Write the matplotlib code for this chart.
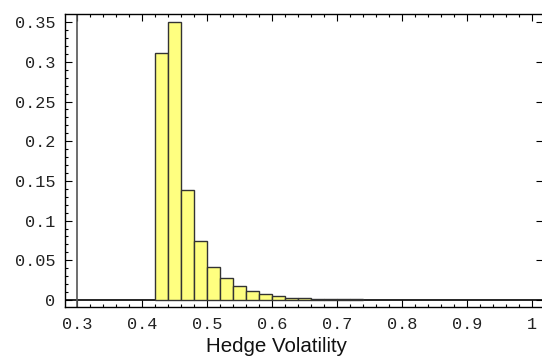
import matplotlib
matplotlib.use("Agg")
import matplotlib.pyplot as plt
from matplotlib.ticker import FixedLocator

# histogram of hedge volatility (relative frequency per bin)
bin_left = [0.42, 0.44, 0.46, 0.48, 0.50, 0.52, 0.54, 0.56,
            0.58, 0.60, 0.62, 0.64, 0.66, 0.68, 0.70, 0.72]
bin_width = 0.02
freq = [0.311, 0.350, 0.138, 0.074, 0.042, 0.028, 0.018, 0.011,
        0.0076, 0.0047, 0.0030, 0.0025, 0.0017, 0.0012, 0.0012, 0.0010]

xticks = [0.3, 0.4, 0.5, 0.6, 0.7, 0.8, 0.9, 1.0]
xticklabels = ["0.3", "0.4", "0.5", "0.6", "0.7", "0.8", "0.9", "1"]
yticks = [0, 0.05, 0.1, 0.15, 0.2, 0.25, 0.3, 0.35]
yticklabels = ["0", "0.05", "0.1", "0.15", "0.2", "0.25", "0.3", "0.35"]

W, H = 542, 356
fig = plt.figure(figsize=(W / 100, H / 100), dpi=100)
# frame runs off the right edge of the canvas
ax = fig.add_axes([65 / W, 1 - 307 / H, (543 - 65) / W, (307 - 14) / H])

ax.bar(bin_left, freq, width=bin_width, align="edge",
       color="#ffff80", edgecolor="#333333", linewidth=1.0, zorder=3)

# axes lines through the origin (0.3, 0)
ax.axhline(0, color="black", linewidth=1.2, zorder=2)
ax.axvline(0.3, color="#555555", linewidth=1.2, zorder=2)

ax.set_xlim(0.3 - 12 / 650, 0.3 + (543 - 77) / 650)
ax.set_ylim(-7 / 794, 286 / 794)

ax.set_xticks(xticks)
ax.set_xticklabels(xticklabels)
ax.set_yticks(yticks)
ax.set_yticklabels(yticklabels)
ax.xaxis.set_minor_locator(FixedLocator([0.28 + 0.02 * i for i in range(38)]))
ax.yaxis.set_minor_locator(FixedLocator([0.01 * i for i in range(36)]))

for lab in ax.get_xticklabels() + ax.get_yticklabels():
    lab.set_family("Liberation Mono")
    lab.set_fontsize(12.2)

ax.tick_params(which="both", direction="in", top=True, right=True,
               width=0.8, colors="black", labelcolor="#222222")
ax.tick_params(which="major", length=5, pad=7)
ax.tick_params(which="minor", length=2.5)
ax.tick_params(axis="y", which="minor", right=False)

for s in ax.spines.values():
    s.set_linewidth(1.0)

fig.text(276 / W, 1 - 352 / H, "Hedge Volatility", family="Liberation Sans",
         fontsize=14.8, ha="center", va="baseline", color="#111111")

fig.savefig("out.png", dpi=100)
